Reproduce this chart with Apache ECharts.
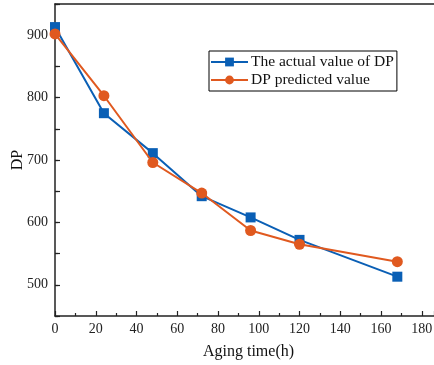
<!DOCTYPE html>
<html><head><meta charset="utf-8">
<script src="https://cdn.jsdelivr.net/npm/echarts@6/dist/echarts.min.js"></script>
<style>html,body{margin:0;padding:0;background:#fff}#c{width:434px;height:365px}</style>
</head><body><div id="c"></div>
<script>
var hours = [0, 24, 48, 72, 96, 120, 168];
var actualDP = [913, 775, 711, 642, 608, 572, 513];
var predictedDP = [902, 803, 696, 647, 587, 565, 537];
var seriesNames = ['The actual value of DP', 'DP predicted value'];
var xName = 'Aging time(h)';
var yName = 'DP';

var font = 'Liberation Serif, Times New Roman, serif';
var axisColor = '#222';
var chart = echarts.init(document.getElementById('c'), null, {renderer: 'canvas'});
function pairs(xs, ys) { return xs.map(function (x, i) { return [x, ys[i]]; }); }
chart.setOption({
  animation: false,
  backgroundColor: '#fff',
  grid: {left: 55, top: 4, right: 0, bottom: 49, containLabel: false, outerBoundsMode: 'none', show: false},
  legend: {
    orient: 'vertical', left: 209, top: 51,
    data: seriesNames,
    borderColor: '#000', borderWidth: 1, padding: [3, 3, 3, 1], itemGap: 2,
    itemWidth: 37, itemHeight: 11,
    textStyle: {fontFamily: font, fontSize: 15.5, color: '#111', padding: [0, 0, 0, -2]},
    backgroundColor: '#fff'
  },
  xAxis: [{
    type: 'value', min: 0, max: 186, interval: 20,
    name: xName, nameLocation: 'middle', nameGap: 28, nameMoveOverlap: false,
    nameTextStyle: {fontFamily: font, fontSize: 16, color: '#111', padding: [0, 0, 0, 8]},
    axisLine: {show: true, lineStyle: {color: axisColor, width: 1.5}},
    axisTick: {show: true, inside: true, length: 5, lineStyle: {color: axisColor, width: 1.2}},
    minorTick: {show: true, splitNumber: 2, length: 3, lineStyle: {color: axisColor, width: 1.2}},
    axisLabel: {fontFamily: font, fontSize: 14, color: '#222', margin: 6, showMaxLabel: false},
    splitLine: {show: false}
  }, {
    type: 'value', min: 0, max: 186, position: 'top',
    axisLine: {show: true, lineStyle: {color: axisColor, width: 1.5}},
    axisTick: {show: false}, axisLabel: {show: false}, splitLine: {show: false}
  }],
  yAxis: [{
    type: 'value', min: 450, max: 950, interval: 50,
    name: yName, nameLocation: 'middle', nameGap: 29, nameRotate: 90, nameMoveOverlap: false,
    nameTextStyle: {fontFamily: font, fontSize: 16, color: '#111'},
    axisLine: {show: true, lineStyle: {color: axisColor, width: 1.5}},
    axisTick: {show: true, inside: true, length: 5, lineStyle: {color: axisColor, width: 1.2},
      interval: function (i, v) { return Number(v) % 100 === 0; }},
    axisLabel: {fontFamily: font, fontSize: 14, color: '#222', margin: 7,
      formatter: function (v) { return v % 100 === 0 && v < 950 ? String(v) : ''; }},
    splitLine: {show: false}
  }, {
    type: 'value', min: 450, max: 950, interval: 50, position: 'left',
    axisLine: {show: false},
    axisTick: {show: true, inside: true, length: 3, lineStyle: {color: axisColor, width: 1.2},
      interval: function (i, v) { return Number(v) % 100 === 50 && Number(v) > 450 && Number(v) < 950; }},
    axisLabel: {show: false},
    splitLine: {show: false}
  }],
  series: [{
    name: seriesNames[0], type: 'line', data: pairs(hours, actualDP),
    symbol: 'rect', symbolSize: 10,
    lineStyle: {color: '#0a5fb5', width: 2},
    itemStyle: {color: '#0a5fb5'}, z: 2
  }, {
    name: seriesNames[1], type: 'line', data: pairs(hours, predictedDP),
    symbol: 'circle', symbolSize: 11,
    lineStyle: {color: '#e0591f', width: 2},
    itemStyle: {color: '#e0591f'}, z: 3
  }]
});
</script></body></html>
